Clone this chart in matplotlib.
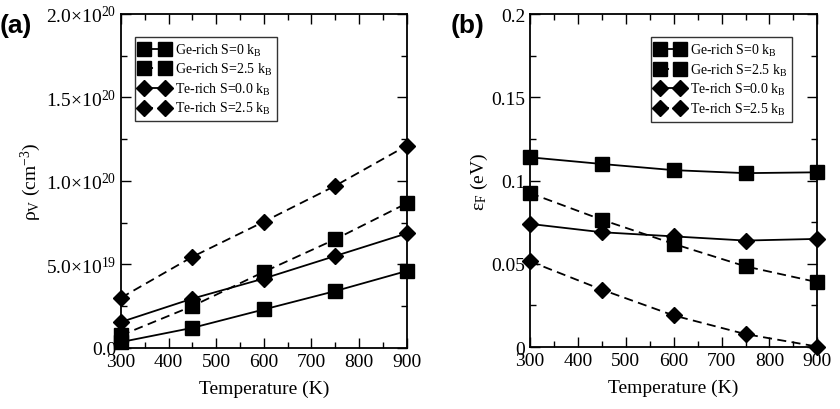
import matplotlib
matplotlib.use('Agg')
import matplotlib.pyplot as plt
from matplotlib.ticker import MultipleLocator, FixedLocator, FixedFormatter

plt.rcParams['font.family'] = ['Liberation Serif', 'DejaVu Serif']
plt.rcParams['mathtext.fontset'] = 'custom'
plt.rcParams['mathtext.rm'] = 'Liberation Serif'
plt.rcParams['mathtext.it'] = 'Liberation Serif:italic'

# 温度
temps = [300, 450, 600, 750, 900]

# (a) 空位浓度 (cm^-3)
rho_ge_s0 = [0.35e19, 1.2e19, 2.3e19, 3.4e19, 4.6e19]
rho_ge_s25 = [0.75e19, 2.5e19, 4.55e19, 6.5e19, 8.65e19]
rho_te_s0 = [1.55e19, 2.95e19, 4.15e19, 5.5e19, 6.85e19]
rho_te_s25 = [3.0e19, 5.45e19, 7.55e19, 9.7e19, 12.1e19]

# (b) 费米能级 (eV)
ef_ge_s0 = [0.114, 0.110, 0.1063, 0.1045, 0.105]
ef_ge_s25 = [0.0925, 0.0765, 0.062, 0.0485, 0.039]
ef_te_s0 = [0.074, 0.069, 0.0665, 0.064, 0.065]
ef_te_s25 = [0.0515, 0.0345, 0.019, 0.0078, 0.0003]

labels = [r'Ge-rich S=0 k$_{\rm B}$', r'Ge-rich S=2.5 k$_{\rm B}$',
          r'Te-rich S=0.0 k$_{\rm B}$', r'Te-rich S=2.5 k$_{\rm B}$']

rho_ticks = [0, 0.5e20, 1.0e20, 1.5e20, 2.0e20]
rho_ticklabels = ['0.0', r'5.0$\times$10$^{19}$', r'1.0$\times$10$^{20}$',
                  r'1.5$\times$10$^{20}$', r'2.0$\times$10$^{20}$']
ef_ticks = [0, 0.05, 0.1, 0.15, 0.2]
ef_ticklabels = ['0', '0.05', '0.1', '0.15', '0.2']


def draw_panel(ax, series, leg_loc, leg_anchor):
    styles = [('s', '-'), ('s', '--'), ('D', '-'), ('D', '--')]
    for vals, (mk, ls), lab in zip(series, styles, labels):
        ms = 10 if mk == 's' else 8.5
        ax.plot(temps, vals, color='black', linestyle=ls, linewidth=1.3,
                marker=mk, markersize=ms, label=lab, clip_on=False,
                dashes=(5, 3) if ls == '--' else (None, None), zorder=3)
    ax.set_xlim(300, 900)
    ax.xaxis.set_major_locator(MultipleLocator(100))
    ax.xaxis.set_minor_locator(MultipleLocator(50))
    ax.tick_params(which='both', direction='in', top=True, right=True,
                   labelsize=14, width=1.0)
    ax.tick_params(which='major', length=7)
    ax.tick_params(which='minor', length=4)
    ax.set_xlabel('Temperature (K)', fontsize=14, labelpad=7)
    for sp in ax.spines.values():
        sp.set_linewidth(1.3)
    leg = ax.legend(numpoints=2, fontsize=10, frameon=True, fancybox=False,
                    edgecolor='black', handlelength=2.1, handletextpad=0.4,
                    labelspacing=0.25, borderpad=0.35, borderaxespad=0,
                    loc=leg_loc, bbox_to_anchor=leg_anchor)
    leg.get_frame().set_linewidth(1.0)
    return leg


fig = plt.figure(figsize=(8.4, 4.1), dpi=100)
ax1 = fig.add_axes([0.144, 0.149, 0.340, 0.815])
ax2 = fig.add_axes([0.631, 0.151, 0.342, 0.812])

draw_panel(ax1, [rho_ge_s0, rho_ge_s25, rho_te_s0, rho_te_s25],
           'upper left', (0.049, 0.931))
ax1.set_ylim(0, 2.0e20)
ax1.yaxis.set_major_locator(FixedLocator(rho_ticks))
ax1.yaxis.set_major_formatter(FixedFormatter(rho_ticklabels))
ax1.yaxis.set_minor_locator(MultipleLocator(0.25e20))
ax1.set_ylabel(r'ρ$_{\rm V}$ (cm$^{-3}$)', fontsize=14, labelpad=2)

draw_panel(ax2, [ef_ge_s0, ef_ge_s25, ef_te_s0, ef_te_s25],
           'upper right', (0.913, 0.931))
ax2.set_ylim(0, 0.2)
ax2.yaxis.set_major_locator(FixedLocator(ef_ticks))
ax2.yaxis.set_major_formatter(FixedFormatter(ef_ticklabels))
ax2.yaxis.set_minor_locator(MultipleLocator(0.025))
ax2.set_ylabel(r'ε$_{\rm F}$ (eV)', fontsize=14, labelpad=1)

fig.text(0.0, 0.965, '(a)', fontsize=19, fontweight='bold',
         family=['Liberation Sans', 'DejaVu Sans'], va='top', ha='left')
fig.text(0.536, 0.965, '(b)', fontsize=19, fontweight='bold',
         family=['Liberation Sans', 'DejaVu Sans'], va='top', ha='left')

fig.savefig('out.png', dpi=100)
